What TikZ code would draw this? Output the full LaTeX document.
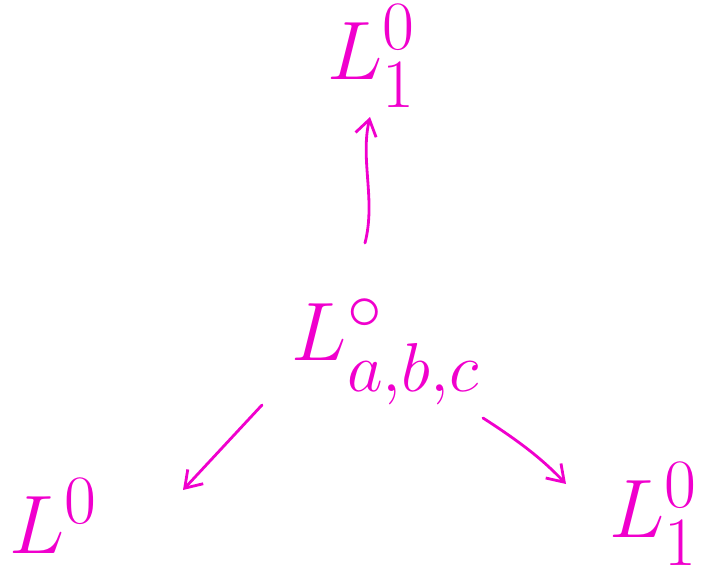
\documentclass[tikz,border=0pt]{standalone}
\usepackage{amsmath,amssymb}
\usepackage{tikz}
\usetikzlibrary{arrows.meta}
\definecolor{ink}{RGB}{240,0,205}

\begin{document}
\begin{tikzpicture}[x=0.02cm,y=-0.02cm,
  lab/.style={text=ink,inner sep=0pt,font=\Huge,scale=1.9},
  arr/.style={draw=ink,line width=1.6pt,line cap=round,
    -{Straight Barb[length=9pt,width=12pt,line width=1.6pt]}}]
\useasboundingbox (0,0) rectangle (707,574);
\node[lab] (top) at (372,56) {$L_1^0$};
\node[lab] (centre) at (386,352) {$L^{\circ}_{a,b,c}$};
\node[lab] (left) at (54,516) {$L^0$};
\node[lab] (right) at (654,514) {$L_1^0$};
% arrow ends
\coordinate (up0) at (365,243);
\coordinate (up1) at (370,117);
\coordinate (dl0) at (262,405);
\coordinate (dl1) at (183,490);
\coordinate (dr0) at (483,418);
\coordinate (dr1) at (566,484);
\draw[arr] (up0) .. controls (376,200) and (360,160) .. (up1);
\draw[arr] (dl0) -- (dl1);
\draw[arr] (dr0) .. controls (525,445) and (545,462) .. (dr1);
\end{tikzpicture}
\end{document}
